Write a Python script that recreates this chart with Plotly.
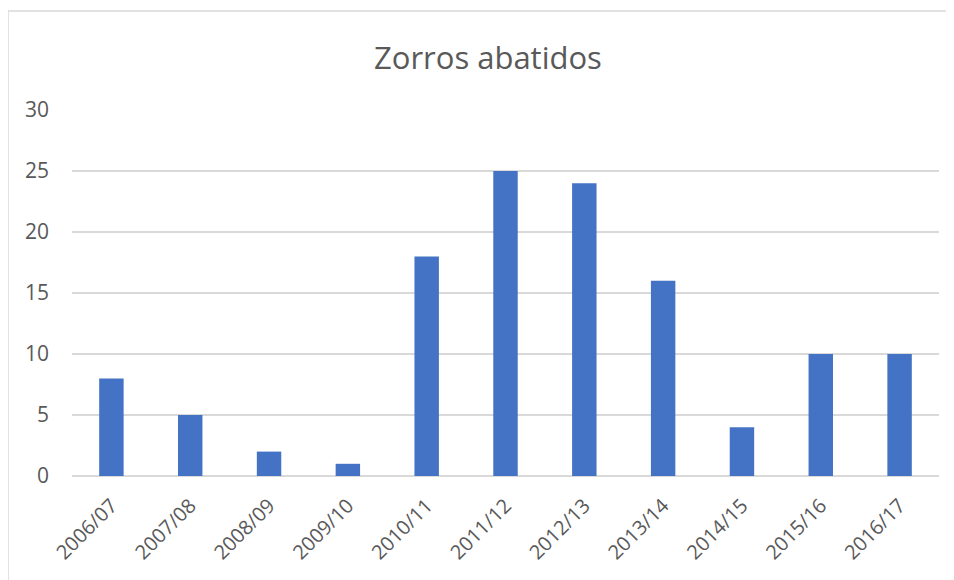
import plotly.graph_objects as go

seasons = ["2006/07", "2007/08", "2008/09", "2009/10", "2010/11", "2011/12",
           "2012/13", "2013/14", "2014/15", "2015/16", "2016/17"]
foxes = [8, 5, 2, 1, 18, 25, 24, 16, 4, 10, 10]
y_ticks = [0, 5, 10, 15, 20, 25, 30]

FONT = "Open Sans"
TXT = "#595959"
GRID = "#D9D9D9"

fig = go.Figure(go.Bar(x=seasons, y=foxes, marker_color="#4472C4",
                       marker_line_width=0))

fig.update_layout(
    width=954, height=580,
    margin=dict(l=64, r=23, t=102, b=112),
    paper_bgcolor="white", plot_bgcolor="white",
    bargap=0.69,
    showlegend=False,
    font=dict(family=FONT, color=TXT),
    annotations=[dict(text="Zorros abatidos", xref="paper", yref="paper",
                      x=0.4798, y=1.1448, xanchor="center", yanchor="middle",
                      showarrow=False, font=dict(size=31, color=TXT, family=FONT))],
    shapes=[dict(type="rect", xref="paper", yref="paper",
                 x0=-0.0738, x1=1.2, y0=-0.6, y1=1.2705,
                 line=dict(color=GRID, width=1.5), fillcolor="rgba(0,0,0,0)",
                 layer="below")],
)
fig.update_xaxes(tickangle=-45, tickfont=dict(size=20, color=TXT),
                 showgrid=False, showline=False, ticks="", ticklabelstandoff=13)
fig.update_yaxes(range=[0, 30], tickvals=y_ticks, showgrid=True, gridcolor=GRID,
                 gridwidth=1.5, zeroline=True, zerolinecolor=GRID, zerolinewidth=1.5,
                 tickfont=dict(size=21, color=TXT), ticks="",
                 ticklabelstandoff=22, showline=False)

fig.write_html("out.html")
